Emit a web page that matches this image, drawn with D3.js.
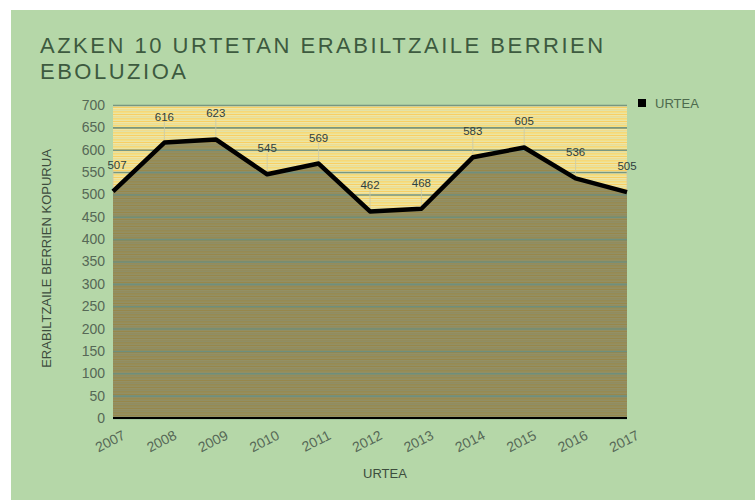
<!DOCTYPE html>
<html lang="eu">
<head>
<meta charset="UTF-8">
<title>Azken 10 urtetan erabiltzaile berrien eboluzioa</title>
<script src="https://d3js.org/d3.v7.min.js"></script>
<style>
    html, body { margin: 0; padding: 0; background: #fff; }
    svg text { font-family: "Liberation Sans", Arial, sans-serif; }
</style>
</head>
<body>
<div id="chart"></div>
<script>
    // data
    var years = ["2007", "2008", "2009", "2010", "2011", "2012", "2013", "2014", "2015", "2016", "2017"];
    var newUsers = [507, 616, 623, 545, 569, 462, 468, 583, 605, 536, 505];
    var yTicks = [0, 50, 100, 150, 200, 250, 300, 350, 400, 450, 500, 550, 600, 650, 700];

    var W = 755, H = 500;
    var plot = {left: 113, right: 627, top: 105, bottom: 418};

    var svg = d3.select("#chart").append("svg")
        .attr("width", W)
        .attr("height", H);

    // light green card
    svg.append("rect")
        .attr("x", 11).attr("y", 10)
        .attr("width", W - 11).attr("height", H - 10)
        .attr("fill", "#b5d7a8");

    // striped background pattern
    var defs = svg.append("defs");
    var pat = defs.append("pattern")
        .attr("id", "stripes")
        .attr("patternUnits", "userSpaceOnUse")
        .attr("width", 10).attr("height", 7);
    var stripeCols = ["#f4df84", "#ebe4a4", "#f8cf64", "#eee6a6", "#f1dc8c", "#e3e2a6", "#f6d878"];
    stripeCols.forEach(function(c, i) {
        pat.append("rect").attr("x", 0).attr("y", i).attr("width", 10).attr("height", 1).attr("fill", c);
    });

    var x = d3.scalePoint().domain(years).range([plot.left, plot.right]);
    var y = d3.scaleLinear().domain([0, 700]).range([plot.bottom, plot.top]);

    svg.append("rect")
        .attr("x", plot.left).attr("y", plot.top)
        .attr("width", plot.right - plot.left)
        .attr("height", plot.bottom - plot.top)
        .attr("fill", "url(#stripes)");

    var pts = years.map(function(d, i) { return {year: d, value: newUsers[i]}; });

    // area under the line
    var area = d3.area()
        .x(function(d) { return x(d.year); })
        .y0(y(0))
        .y1(function(d) { return y(d.value); });

    svg.append("path")
        .datum(pts)
        .attr("d", area)
        .attr("fill", "#57563a")
        .attr("fill-opacity", 0.6);

    // grid
    svg.append("g")
        .attr("transform", "translate(" + plot.left + ",0)")
        .call(d3.axisLeft(y).tickValues(yTicks).tickSize(-(plot.right - plot.left)).tickFormat(""))
        .call(function(g) {
            g.select(".domain").remove();
            g.selectAll("line").attr("stroke", "#6a8f80").attr("stroke-width", 1.6).attr("stroke-opacity", 0.9);
        });

    // y axis labels
    svg.append("g")
        .attr("transform", "translate(" + plot.left + ",0)")
        .call(d3.axisLeft(y).tickValues(yTicks).tickSize(0).tickPadding(8))
        .call(function(g) {
            g.select(".domain").remove();
            g.selectAll("text")
                .attr("fill", "#566856")
                .style("font-size", "14px");
        });

    // x axis
    svg.append("g")
        .attr("transform", "translate(0," + plot.bottom + ")")
        .call(d3.axisBottom(x).tickSize(0).tickPadding(10))
        .call(function(g) {
            g.select(".domain").attr("stroke", "#000").attr("stroke-width", 2)
                .attr("d", "M" + plot.left + ",0H" + plot.right);
            g.selectAll("text")
                .attr("fill", "#566856")
                .style("font-size", "14px")
                .attr("text-anchor", "end")
                .attr("dy", "1em")
                .attr("dx", "0.15em")
                .attr("transform", "rotate(-27)");
        });

    // data label leader lines + labels
    var lab = svg.append("g");
    pts.forEach(function(d, i) {
        var px = x(d.year), py = y(d.value);
        lab.append("line")
            .attr("x1", px).attr("x2", px)
            .attr("y1", py).attr("y2", py - 21)
            .attr("stroke", "#c9c9a8").attr("stroke-width", 0.8);
    });

    // the line
    var line = d3.line()
        .x(function(d) { return x(d.year); })
        .y(function(d) { return y(d.value); });

    svg.append("path")
        .datum(pts)
        .attr("d", line)
        .attr("fill", "none")
        .attr("stroke", "#000")
        .attr("stroke-width", 4.5)
        .attr("stroke-linejoin", "round");

    pts.forEach(function(d, i) {
        var px = x(d.year), py = y(d.value);
        var dx = i === 0 ? 4 : 0;
        lab.append("text")
            .attr("x", px + dx).attr("y", py - 22)
            .attr("text-anchor", "middle")
            .attr("fill", "#2e3e3e")
            .style("font-size", "11.5px")
            .text(d.value);
    });

    // title (two lines)
    var titleLines = ["AZKEN 10 URTETAN ERABILTZAILE BERRIEN", "EBOLUZIOA"];
    svg.selectAll("text.title")
        .data(titleLines)
        .join("text")
        .attr("class", "title")
        .attr("x", 40)
        .attr("y", function(d, i) { return 53 + i * 25.5; })
        .attr("fill", "#3d5a3f")
        .style("font-size", "22px")
        .style("letter-spacing", "2.5px")
        .text(function(d) { return d; });

    // axis titles
    svg.append("text")
        .attr("transform", "translate(51," + ((plot.top + plot.bottom) / 2 - 3) + ") rotate(-90)")
        .attr("text-anchor", "middle")
        .attr("fill", "#3d4d3d")
        .style("font-size", "13px")
        .text("ERABILTZAILE BERRIEN KOPURUA");

    svg.append("text")
        .attr("x", 385)
        .attr("y", 478)
        .attr("text-anchor", "middle")
        .attr("fill", "#3d4d3d")
        .style("font-size", "13px")
        .text("URTEA");

    // legend
    svg.append("rect")
        .attr("x", 638).attr("y", 99)
        .attr("width", 8).attr("height", 8)
        .attr("fill", "#000");
    svg.append("text")
        .attr("x", 655).attr("y", 108)
        .attr("fill", "#4d6a4d")
        .style("font-size", "13px")
        .text("URTEA");
</script>
</body>
</html>
